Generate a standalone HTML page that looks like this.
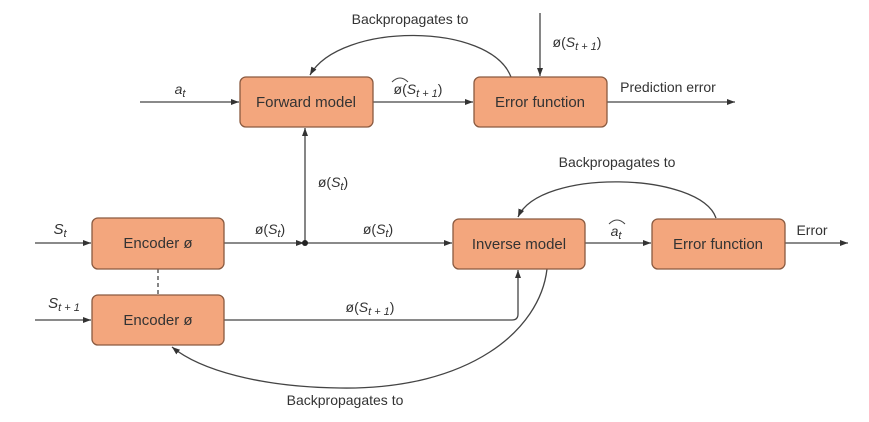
<!DOCTYPE html>
<html><head><meta charset="utf-8"><style>
body{margin:0;background:#fff}
svg text{font-family:"Liberation Sans",sans-serif;fill:#333}
</style></head><body>
<svg width="869" height="417" viewBox="0 0 869 417" xmlns="http://www.w3.org/2000/svg">
<defs><marker id="a" markerWidth="8" markerHeight="6" refX="8" refY="3" orient="auto" markerUnits="userSpaceOnUse"><path d="M0,0 L8,3 L0,6 z" fill="#333"/></marker></defs>
<g stroke="#444" stroke-width="1.3" fill="none">
<line x1="140" y1="102" x2="239" y2="102" marker-end="url(#a)"/>
<line x1="373" y1="102" x2="473" y2="102" marker-end="url(#a)"/>
<line x1="607" y1="102" x2="735" y2="102" marker-end="url(#a)"/>
<line x1="540" y1="13" x2="540" y2="76" marker-end="url(#a)"/>
<path d="M511,77 C490,22 340,22 310,75" marker-end="url(#a)"/>
<line x1="35" y1="243" x2="91" y2="243" marker-end="url(#a)"/>
<line x1="224" y1="243" x2="304" y2="243" marker-end="url(#a)"/>
<line x1="305" y1="243" x2="452" y2="243" marker-end="url(#a)"/>
<line x1="305" y1="243" x2="305" y2="128" marker-end="url(#a)"/>
<line x1="585" y1="243" x2="651" y2="243" marker-end="url(#a)"/>
<line x1="785" y1="243" x2="848" y2="243" marker-end="url(#a)"/>
<path d="M716,218 C700,172 540,168 518,217" marker-end="url(#a)"/>
<line x1="35" y1="320" x2="91" y2="320" marker-end="url(#a)"/>
<path d="M224,320 L512,320 Q518,320 518,314 L518,270" marker-end="url(#a)"/>
<path d="M547,269 C540,330 470,390 340,388 C260,387 200,370 172,347" marker-end="url(#a)"/>
<line x1="158" y1="269" x2="158" y2="295" stroke-dasharray="4,3"/>
</g>
<circle cx="305" cy="243" r="3" fill="#222"/>
<g fill="#f3a67d" stroke="#8a5a40" stroke-width="1.3">
<rect x="240" y="77" width="133" height="50" rx="6"/>
<rect x="474" y="77" width="133" height="50" rx="6"/>
<rect x="92" y="218" width="132" height="51" rx="6"/>
<rect x="92" y="295" width="132" height="50" rx="6"/>
<rect x="453" y="219" width="132" height="50" rx="6"/>
<rect x="652" y="219" width="133" height="50" rx="6"/>
</g>
<g font-size="15" text-anchor="middle">
<text x="306" y="107">Forward model</text>
<text x="540" y="107">Error function</text>
<text x="158" y="248">Encoder ø</text>
<text x="158" y="325">Encoder ø</text>
<text x="519" y="249">Inverse model</text>
<text x="718" y="249">Error function</text>
</g>
<g font-size="14" text-anchor="middle">
<text x="410" y="24">Backpropagates to</text>
<text x="617" y="167">Backpropagates to</text>
<text x="345" y="405">Backpropagates to</text>
<text x="668" y="92">Prediction error</text>
<text x="812" y="235">Error</text>
<text x="180" y="94" font-style="italic">a<tspan font-size="11" dy="3">t</tspan></text>
<text x="60" y="234" font-style="italic" font-size="15">S<tspan font-size="11" dy="3">t</tspan></text>
<text x="64" y="308" font-style="italic" font-size="15">S<tspan font-size="11" dy="3">t + 1</tspan></text>
<text x="270" y="234">ø(<tspan font-style="italic">S</tspan><tspan font-size="11" dy="3" font-style="italic">t</tspan><tspan dy="-3">)</tspan></text>
<text x="378" y="234">ø(<tspan font-style="italic">S</tspan><tspan font-size="11" dy="3" font-style="italic">t</tspan><tspan dy="-3">)</tspan></text>
<text x="333" y="187">ø(<tspan font-style="italic">S</tspan><tspan font-size="11" dy="3" font-style="italic">t</tspan><tspan dy="-3">)</tspan></text>
<text x="418" y="94">ø(<tspan font-style="italic">S</tspan><tspan font-size="11" dy="3" font-style="italic">t + 1</tspan><tspan dy="-3">)</tspan></text>
<text x="577" y="47">ø(<tspan font-style="italic">S</tspan><tspan font-size="11" dy="3" font-style="italic">t + 1</tspan><tspan dy="-3">)</tspan></text>
<text x="370" y="312">ø(<tspan font-style="italic">S</tspan><tspan font-size="11" dy="3" font-style="italic">t + 1</tspan><tspan dy="-3">)</tspan></text>
<text x="616" y="236" font-style="italic">a<tspan font-size="11" dy="3">t</tspan></text>
</g>
<g stroke="#444" fill="none" stroke-width="1">
<path d="M392,82 Q400,74 408,82"/>
<path d="M609,224 Q617,216 625,224"/>
</g>
</svg>
</body></html>
